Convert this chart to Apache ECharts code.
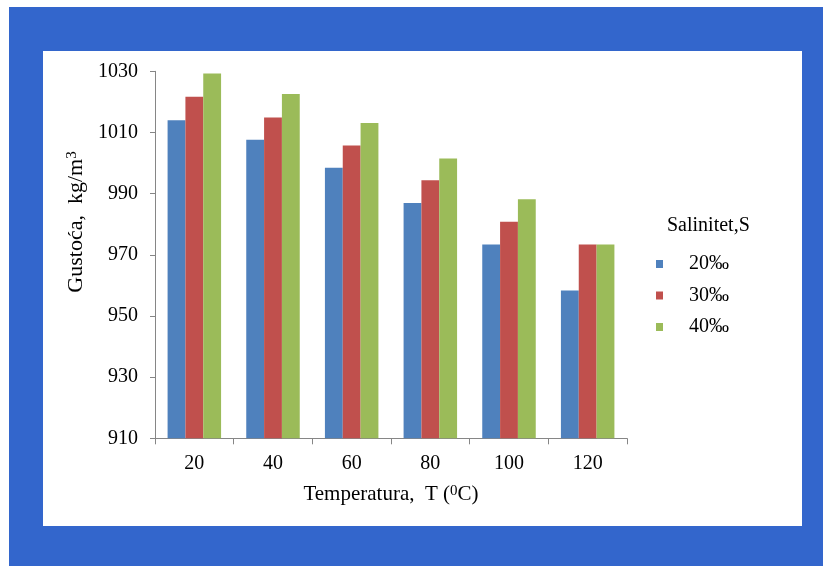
<!DOCTYPE html>
<html>
<head>
<meta charset="utf-8">
<script src="https://cdn.jsdelivr.net/npm/echarts@6/dist/echarts.min.js"></script>
<style>
html,body{margin:0;padding:0;background:#fff;}
#main{width:823px;height:566px;}
</style>
</head>
<body>
<div id="main"></div>
<script>
const categories = ['20', '40', '60', '80', '100', '120'];
const seriesNames = ['20‰', '30‰', '40‰'];
const s20 = [1014.0, 1007.6, 998.5, 986.9, 973.4, 958.3];
const s30 = [1021.7, 1014.9, 1005.7, 994.4, 980.8, 973.4];
const s40 = [1029.3, 1022.6, 1013.1, 1001.5, 988.2, 973.4];
const yTicks = [910, 930, 950, 970, 990, 1010, 1030];
const colors = ['#4F81BD', '#C0504D', '#9BBB59'];

const FONT = "'Liberation Serif', 'Times New Roman', serif";
const chart = echarts.init(document.getElementById('main'), null, {renderer: 'canvas'});

const values = [s20, s30, s40];
const supStyle = {fontSize: 15, verticalAlign: 'top', padding: [0, 0, 8, 0], fontFamily: FONT, color: '#000'};
const option = {
  animation: false,
  backgroundColor: '#ffffff',
  color: colors,
  textStyle: {fontFamily: FONT, color: '#000'},
  graphic: [
    {type: 'rect', z: -10, shape: {x: 9, y: 7, width: 814, height: 559}, style: {fill: '#3366CC'}},
    {type: 'rect', z: -9, shape: {x: 43, y: 51, width: 759, height: 475}, style: {fill: '#ffffff'}},
    {type: 'text', x: 76, y: 222, rotation: Math.PI / 2,
      style: {
        text: 'Gustoća,  kg/m{sup|3}', fontFamily: FONT, fontSize: 22, fill: '#000',
        align: 'center', verticalAlign: 'middle',
        rich: {sup: supStyle}
      }}
  ],
  title: {
    text: 'Salinitet,S', left: 662, top: 211,
    textStyle: {fontFamily: FONT, fontSize: 20, fontWeight: 'normal', color: '#000'}
  },
  legend: {
    orient: 'vertical', left: 651, top: 249,
    icon: 'rect', itemWidth: 7, itemHeight: 8, itemGap: 11.5,
    data: seriesNames,
    textStyle: {fontFamily: FONT, fontSize: 20, color: '#000', padding: [0, 0, 0, 21]}
  },
  grid: {left: 155, right: 196, top: 71.3, bottom: 127.7, containLabel: false},
  xAxis: {
    type: 'category', data: categories,
    name: 'Temperatura,  T ({sup|0}C)', nameLocation: 'middle', nameGap: 45,
    nameTextStyle: {fontFamily: FONT, fontSize: 21, color: '#000', rich: {sup: supStyle}},
    axisLine: {lineStyle: {color: '#868686', width: 1}},
    axisTick: {show: true, length: 6, lineStyle: {color: '#868686'}},
    axisLabel: {fontFamily: FONT, fontSize: 20, color: '#000', margin: 15}
  },
  yAxis: {
    type: 'value', min: yTicks[0], max: yTicks[yTicks.length - 1], interval: 20,
    axisLine: {show: true, lineStyle: {color: '#868686', width: 1}},
    axisTick: {show: true, length: 5, lineStyle: {color: '#868686'}},
    splitLine: {show: false},
    axisLabel: {fontFamily: FONT, fontSize: 20, color: '#000', margin: 17,
      formatter: v => String(v)}
  },
  series: seriesNames.map((n, i) => ({
    name: n, type: 'bar', data: values[i],
    barGap: '0%', barCategoryGap: '32%',
    itemStyle: {color: colors[i]}
  }))
};
chart.setOption(option);
</script>
</body>
</html>
